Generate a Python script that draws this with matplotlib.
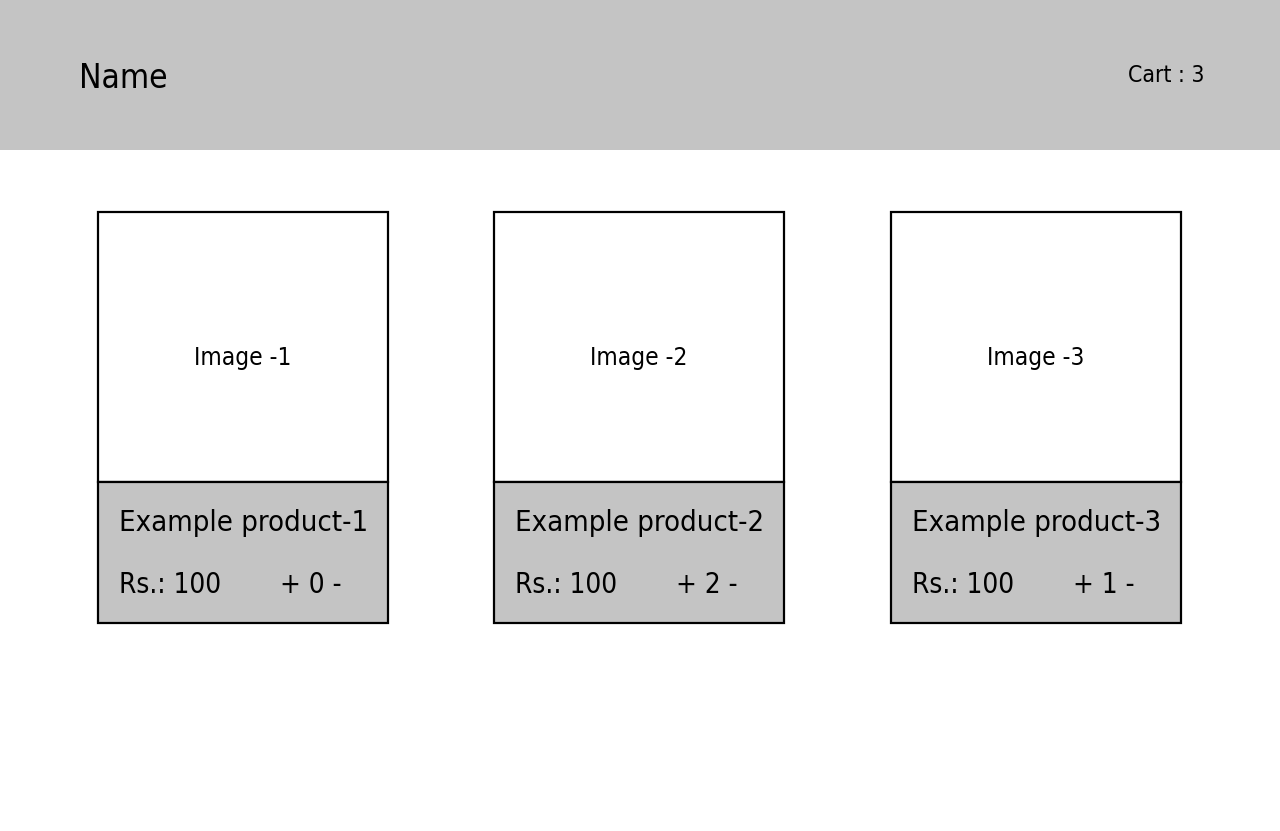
import matplotlib
matplotlib.use("Agg")
import matplotlib.pyplot as plt
from matplotlib.patches import Rectangle

# ---- data ----
site_name = "Name"
cart_count = 3
image_labels = ["Image -1", "Image -2", "Image -3"]
product_names = ["Example product-1", "Example product-2", "Example product-3"]
prices = [100, 100, 100]
quantities = [0, 2, 1]

GRAY = "#c4c4c4"
FONT = ["DejaVu Sans"]
ST = "condensed"

fig = plt.figure(figsize=(12.8, 8.31), dpi=100)
ax = fig.add_axes([0, 0, 1, 1])
ax.set_xlim(0, 1280)
ax.set_ylim(831, 0)
ax.axis("off")

# header
ax.add_patch(Rectangle((0, 0), 1280, 150, facecolor=GRAY, edgecolor="none"))
ax.text(79, 79, site_name, fontsize=24, family=FONT, stretch=ST, va="center", ha="left")
ax.text(1204, 75, f"Cart : {cart_count}", fontsize=16.5, family=FONT, stretch=ST,
        va="center", ha="right")

card_left = [98, 494, 891]
card_w = 290
top, mid, bottom = 212, 482, 623

for i in range(len(product_names)):
    x0 = card_left[i]
    ax.add_patch(Rectangle((x0, top), card_w, mid - top, facecolor="white",
                           edgecolor="black", linewidth=1.6))
    ax.add_patch(Rectangle((x0, mid), card_w, bottom - mid, facecolor=GRAY,
                           edgecolor="black", linewidth=1.6))
    ax.text(x0 + card_w / 2, 358, image_labels[i], fontsize=17.5, family=FONT, stretch=ST,
            ha="center", va="center")
    ax.text(x0 + 21, 523, product_names[i], fontsize=21, family=FONT, stretch=ST,
            ha="left", va="center")
    ax.text(x0 + 21, 585, f"Rs.: {prices[i]}", fontsize=20, family=FONT, stretch=ST,
            ha="left", va="center")
    ax.text(x0 + 213, 585, f"+ {quantities[i]} -", fontsize=20, family=FONT, stretch=ST,
            ha="center", va="center")

fig.savefig("out.png", dpi=100)
